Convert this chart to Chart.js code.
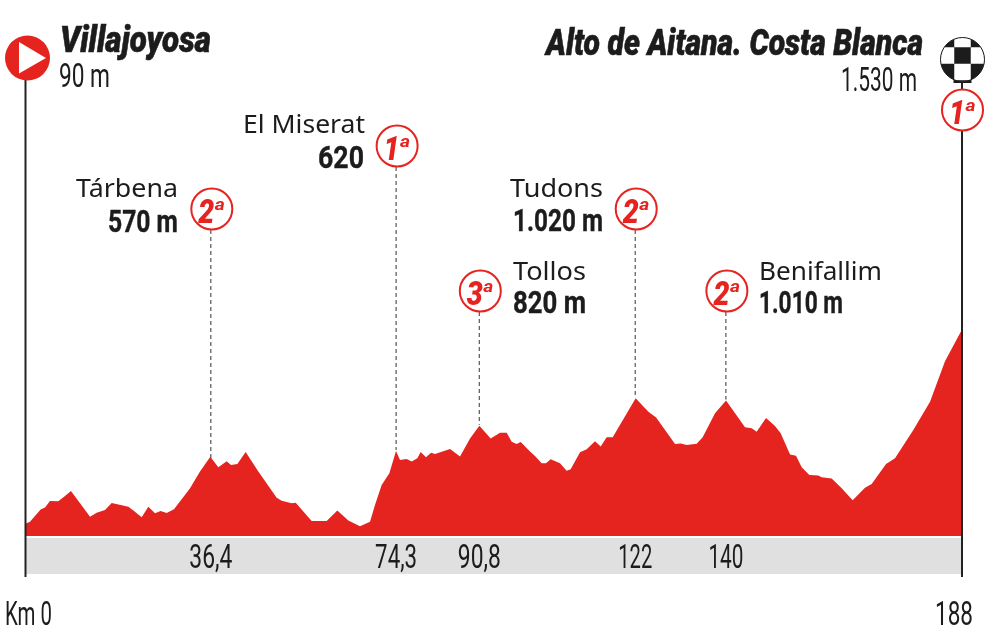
<!DOCTYPE html>
<html lang="es">
<head>
<meta charset="utf-8">
<title>Perfil de etapa</title>
<script src="https://cdn.jsdelivr.net/npm/chart.js@4"></script>
<style>html,body{margin:0;padding:0;background:#fff}canvas{display:block}</style>
</head>
<body>
<canvas id="c" width="990" height="627"></canvas>
<script>
const routeKm = [0,0.9,3.04,3.92,4.92,6.59,7.93,9.13,12.95,14.29,15.96,17.3,20.65,21.65,23.32,24.66,26,27.13,28.34,29.81,33,35.03,37.1,38.71,40.39,41.26,42.53,44.2,46.74,50.42,51.43,53.43,54.24,57.45,60.46,62.6,64.81,67.15,69.16,70.16,71.5,73.04,74.38,75.18,76.52,77.52,78.66,79.33,80.4,81.41,82.21,85.22,87.23,89.24,91.11,93.38,95.26,96.6,97.6,98.6,99.41,101.28,102.28,103.62,104.49,105.43,107.3,108.64,109.44,111.32,112.66,114.33,115.47,116.67,117.88,122.49,125.04,126.6,130.39,131.53,132.73,134.74,135.94,138.42,140.63,144.44,145.78,146.78,148.66,150.46,151.6,153.48,154.68,155.82,157.36,159.16,159.83,161.84,163.85,166.05,168.53,169.87,172.75,174.55,178.23,181.58,184.59,188];
const routeElev = [90,106,197,212,259,257,296,333,143,173,193,244,217,188,138,217,168,185,170,198,351,477,587,509,553,526,533,622,477,284,262,242,247,111,111,188,114,72,106,230,378,464,630,563,570,551,575,622,583,617,607,644,588,723,817,723,765,765,699,682,696,625,593,538,538,568,538,484,494,620,642,701,662,731,731,1020,921,878,682,686,674,684,731,909,1003,805,798,773,874,815,761,603,595,509,452,449,435,425,353,264,358,385,533,575,785,995,1295,1530];

const climbKm = [37.2,74.4,91.1,122.4,140.6];
const climbElev = [570,630,817,1020,1003];
const climbKmLabels = ['36,4','74,3','90,8','122','140'];
const climbNames = ['Tárbena','El Miserat','Tollos','Tudons','Benifallim'];
const climbHeights = ['570 m','620','820 m','1.020 m','1.010 m'];
const climbCats = ['2','1','3','2','2'];

const endTicks = [0.6,186.4];
const endTickLabels = ['Km 0','188'];
const startName = 'Villajoyosa', startHeight = '90 m';
const finishName = 'Alto de Aitana. Costa Blanca', finishHeight = '1.530 m', finishCat = '1';

const RED = '#e5231f', INK = '#1c1c1c', BAND = '#e0e0e0';
const NAME_FONT = '25px "Noto Sans",sans-serif';
const H_FONT = 'bold 32px Roboto,sans-serif';
const PLAIN_FONT = '33px Roboto,sans-serif';
const TITLE_FONT = '900 italic 37px Roboto,sans-serif';

// label layout, in the same order as the climb arrays: circle centre, name and height text boxes
const climbLayout = [
  {cy:209, name:[76,178,197],   h:[108,178,232]},
  {cy:146, name:[243,365,133],  h:[318,364,168]},
  {cy:291, name:[513,586,280],  h:[513,586,313]},
  {cy:209, name:[510,603,197],  h:[513,603,231]},
  {cy:291, name:[759,882,280],  h:[759,843,313]}
];
// horizontal ink width of the kilometre labels, same order as their tick arrays
const climbTickWidths = [43,42,43,34,35];
const endTickWidths = [47,38];

function fit(ctx, text, left, right, base, font, color, heavy) {
  ctx.save();
  ctx.font = font; ctx.fillStyle = color; ctx.textAlign = 'left'; ctx.textBaseline = 'alphabetic';
  const w = ctx.measureText(text).width;
  ctx.translate(left, base);
  ctx.scale((right - left) / w, 1);
  ctx.fillText(text, 0, 0);
  if (heavy) { ctx.strokeStyle = color; ctx.lineWidth = heavy; ctx.strokeText(text, 0, 0); }
  ctx.restore();
}

function catBadge(ctx, cx, cy, digit) {
  ctx.save();
  ctx.beginPath(); ctx.arc(cx, cy, 20.5, 0, Math.PI * 2);
  ctx.fillStyle = '#fff'; ctx.fill();
  ctx.lineWidth = 2; ctx.strokeStyle = RED; ctx.stroke();
  ctx.restore();
  fit(ctx, digit, cx - 13.5, cx + 2.5, cy + 14, 'italic 900 33px Roboto,sans-serif', RED);
  fit(ctx, 'a', cx + 3, cx + 13, cy + 1, 'italic bold 17px Roboto,sans-serif', RED);
}

const profileDecor = {
  id: 'profileDecor',
  beforeDatasetsDraw(chart) {
    const {ctx, scales:{x, y}} = chart;
    const y0 = y.getPixelForValue(0);
    ctx.save();
    ctx.fillStyle = BAND;
    ctx.fillRect(x.getPixelForValue(0), y0 + 2, x.getPixelForValue(188) - x.getPixelForValue(0), 36);
    ctx.restore();
  },
  afterDatasetsDraw(chart) {
    const {ctx, scales:{x, x2, y}} = chart;
    const y0 = y.getPixelForValue(0);
    const x0 = x.getPixelForValue(0), x1 = x.getPixelForValue(188);

    // mast lines
    ctx.save();
    ctx.strokeStyle = '#222'; ctx.lineWidth = 2;
    ctx.beginPath();
    ctx.moveTo(x0, 78); ctx.lineTo(x0, y0 + 41);
    ctx.moveTo(x1, 78); ctx.lineTo(x1, y0 + 41);
    ctx.stroke();
    ctx.restore();

    // axis labels
    x.ticks.forEach((t, i) => {
      const p = x.getPixelForValue(t.value), w = climbTickWidths[i] / 2;
      fit(ctx, t.label, p - w, p + w, y0 + 32, PLAIN_FONT, INK);
    });
    x2.ticks.forEach((t, i) => {
      const p = x2.getPixelForValue(t.value), w = endTickWidths[i] / 2;
      fit(ctx, t.label, p - w, p + w, y0 + 89, PLAIN_FONT, INK);
    });

    // climbs
    climbKm.forEach((km, i) => {
      const l = climbLayout[i], px = x.getPixelForValue(km);
      ctx.save();
      ctx.strokeStyle = '#555'; ctx.lineWidth = 1.2; ctx.setLineDash([4, 3]);
      ctx.beginPath(); ctx.moveTo(px, l.cy + 21); ctx.lineTo(px, y.getPixelForValue(climbElev[i]) - 1); ctx.stroke();
      ctx.restore();
      catBadge(ctx, px + 1, l.cy, climbCats[i]);
      fit(ctx, climbNames[i], l.name[0], l.name[1], l.name[2], NAME_FONT, INK);
      fit(ctx, climbHeights[i], l.h[0], l.h[1], l.h[2], H_FONT, INK, 0.4);
    });

    // start marker
    ctx.save();
    ctx.fillStyle = RED;
    ctx.beginPath(); ctx.arc(27.5, 58, 22.5, 0, Math.PI * 2); ctx.fill();
    ctx.fillStyle = '#fff';
    ctx.beginPath(); ctx.moveTo(19, 42); ctx.lineTo(46, 58); ctx.lineTo(19, 73.5); ctx.closePath(); ctx.fill();
    ctx.restore();

    // finish marker
    const fx = 962.5, fy = 59.5, gy = 55.5, s = 16.5;
    ctx.save();
    ctx.fillStyle = INK; ctx.fillRect(fx - 9, 78.5, 18, 4.5);
    ctx.beginPath(); ctx.arc(fx, fy, 22, 0, Math.PI * 2); ctx.fillStyle = '#fff'; ctx.fill();
    ctx.clip();
    ctx.fillStyle = INK;
    ctx.fillRect(fx - 40, fy - 40, 80, 80);
    ctx.fillStyle = '#fff';
    ctx.fillRect(fx - s / 2, gy - s / 2 - s, s, s);
    ctx.fillRect(fx - s / 2, gy + s / 2, s, s);
    ctx.fillRect(fx - s / 2 - s, gy - s / 2, s, s);
    ctx.fillRect(fx + s / 2, gy - s / 2, s, s);
    ctx.restore();
    ctx.save();
    ctx.strokeStyle = INK; ctx.lineWidth = 1;
    ctx.beginPath(); ctx.arc(fx, fy, 22, 0, Math.PI * 2); ctx.stroke();
    ctx.restore();
    catBadge(ctx, fx, 110, finishCat);

    // start / finish titles
    fit(ctx, startName, 60, 211, 52, TITLE_FONT, INK, 0.6);
    fit(ctx, startHeight, 59, 110, 87, PLAIN_FONT, INK);
    fit(ctx, finishName, 546, 923, 55, TITLE_FONT, INK, 0.6);
    fit(ctx, finishHeight, 841, 917, 91, PLAIN_FONT, INK);
  }
};

new Chart(document.getElementById('c'), {
  type: 'line',
  data: {
    datasets: [{
      data: routeKm.map((km, i) => ({x: km, y: routeElev[i]})),
      backgroundColor: RED,
      borderWidth: 0,
      pointRadius: 0,
      tension: 0,
      fill: 'origin'
    }]
  },
  options: {
    responsive: false,
    animation: false,
    devicePixelRatio: 1,
    layout: {padding: {left: 25.5, right: 28, top: 0, bottom: 0}},
    plugins: {legend: {display: false}, tooltip: {enabled: false}, title: {display: false}},
    scales: {
      x: {
        type: 'linear', position: 'bottom', min: 0, max: 188,
        grid: {display: false}, border: {display: false},
        afterBuildTicks: s => { s.ticks = climbKm.map(v => ({value: v})); },
        afterFit: s => { s.height = 40; },
        ticks: {display: false, autoSkip: false, maxRotation: 0, callback: (v, i) => climbKmLabels[i]}
      },
      x2: {
        type: 'linear', position: 'bottom', min: 0, max: 188,
        grid: {display: false}, border: {display: false},
        afterBuildTicks: s => { s.ticks = endTicks.map(v => ({value: v})); },
        afterFit: s => { s.height = 51; },
        ticks: {display: false, autoSkip: false, maxRotation: 0, callback: (v, i) => endTickLabels[i]}
      },
      y: {display: false, min: 0, max: 3970}
    }
  },
  plugins: [profileDecor]
});
</script>
</body>
</html>
